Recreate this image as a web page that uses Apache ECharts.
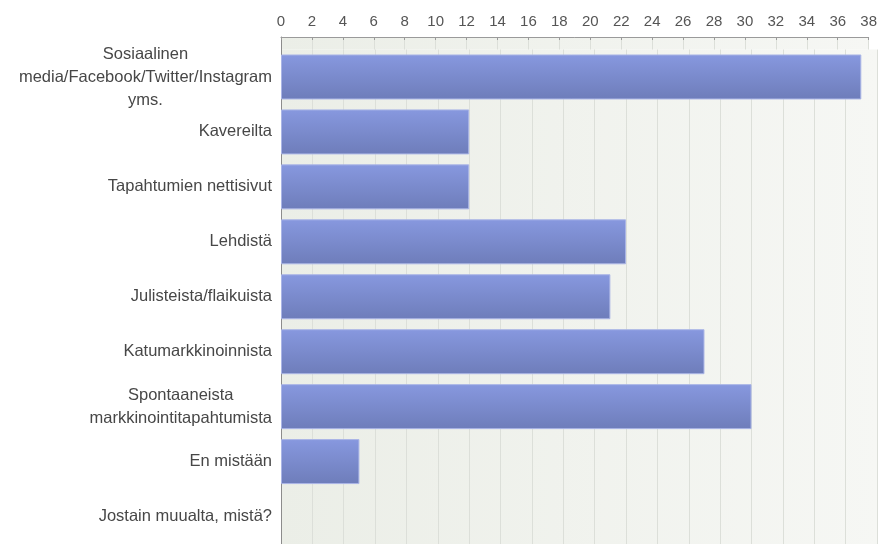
<!DOCTYPE html>
<html>
<head>
<meta charset="utf-8">
<script src="https://cdn.jsdelivr.net/npm/echarts@6/dist/echarts.min.js"></script>
<style>
  html, body { margin: 0; padding: 0; background: #ffffff; }
  #chart { width: 880px; height: 544px; }
</style>
</head>
<body>
<div id="chart"></div>
<script>
// Answer options (top to bottom) and how many respondents chose each
const categories = [
  'Sosiaalinen\nmedia/Facebook/Twitter/Instagram\nyms.',
  'Kavereilta',
  'Tapahtumien nettisivut',
  'Lehdistä',
  'Julisteista/flaikuista',
  'Katumarkkinoinnista',
  'Spontaaneista\nmarkkinointitapahtumista',
  'En mistään',
  'Jostain muualta, mistä?'
];
const counts = [37, 12, 12, 22, 21, 27, 30, 5, 0];

// Count axis range and step
const axisMin = 0;
const axisMax = 38;
const axisStep = 2;

const FONT = 'Liberation Sans, Arial, sans-serif';
const plotBg = {
  type: 'linear', x: 0, y: 0, x2: 1, y2: 0,
  colorStops: [
    { offset: 0, color: '#ebeee7' },
    { offset: 1, color: '#f6f7f4' }
  ]
};
const barFill = {
  type: 'linear', x: 0, y: 0, x2: 0, y2: 1,
  colorStops: [
    { offset: 0, color: '#8798df' },
    { offset: 1, color: '#6e7dba' }
  ]
};

const chart = echarts.init(document.getElementById('chart'), null, { renderer: 'canvas' });

chart.setOption({
  animation: false,
  backgroundColor: '#ffffff',
  grid: [
    // main plot with the bars
    { left: 281, right: 3, top: 49.5, height: 495, show: true, backgroundColor: plotBg, borderWidth: 0, containLabel: false },
    // thin strip between the count axis and the first bar band
    { left: 281, right: 3, top: 37, height: 12.5, show: true, backgroundColor: plotBg, borderWidth: 0, containLabel: false }
  ],
  xAxis: [
    {
      gridIndex: 0,
      type: 'value',
      min: axisMin, max: axisMax, interval: axisStep,
      position: 'top',
      axisLine: { show: false },
      axisTick: { show: false },
      axisLabel: { show: false },
      splitLine: { show: true, lineStyle: { color: '#dcdfd9', width: 1 } }
    },
    {
      gridIndex: 1,
      type: 'value',
      min: axisMin, max: axisMax, interval: axisStep,
      position: 'top',
      axisLine: { show: true, onZero: false, lineStyle: { color: '#9a9a9a', width: 1 } },
      axisTick: { show: true, inside: true, length: 3, lineStyle: { color: '#9a9a9a' } },
      axisLabel: { show: true, color: '#555555', fontFamily: FONT, fontSize: 15, margin: 8 },
      splitLine: { show: true, lineStyle: { color: '#dcdfd9', width: 1 } }
    }
  ],
  yAxis: [
    {
      gridIndex: 0,
      type: 'category',
      inverse: true,
      data: categories,
      axisLine: { show: true, lineStyle: { color: '#8c8c8c', width: 1 } },
      axisTick: { show: false },
      axisLabel: {
        margin: 9,
        interval: 0,
        formatter: function (v) {
          return v.split('\n').map(function (l) { return '{c|' + l + '}'; }).join('\n');
        },
        rich: {
          c: { align: 'center', color: '#474747', fontFamily: FONT, fontSize: 16.5, lineHeight: 23 }
        }
      },
      splitLine: { show: false }
    },
    {
      gridIndex: 1,
      type: 'category',
      data: [''],
      axisLine: { show: true, lineStyle: { color: '#8c8c8c', width: 1 } },
      axisTick: { show: false },
      axisLabel: { show: false }
    }
  ],
  series: [
    {
      type: 'bar',
      xAxisIndex: 0,
      yAxisIndex: 0,
      data: counts.map(function (v) {
        // a zero-length bar gets no outline
        return v === 0 ? { value: v, itemStyle: { borderWidth: 0 } } : v;
      }),
      barWidth: 45,
      itemStyle: {
        color: barFill,
        borderColor: '#aab5e6',
        borderWidth: 1
      },
      silent: true
    }
  ]
});
</script>
</body>
</html>
